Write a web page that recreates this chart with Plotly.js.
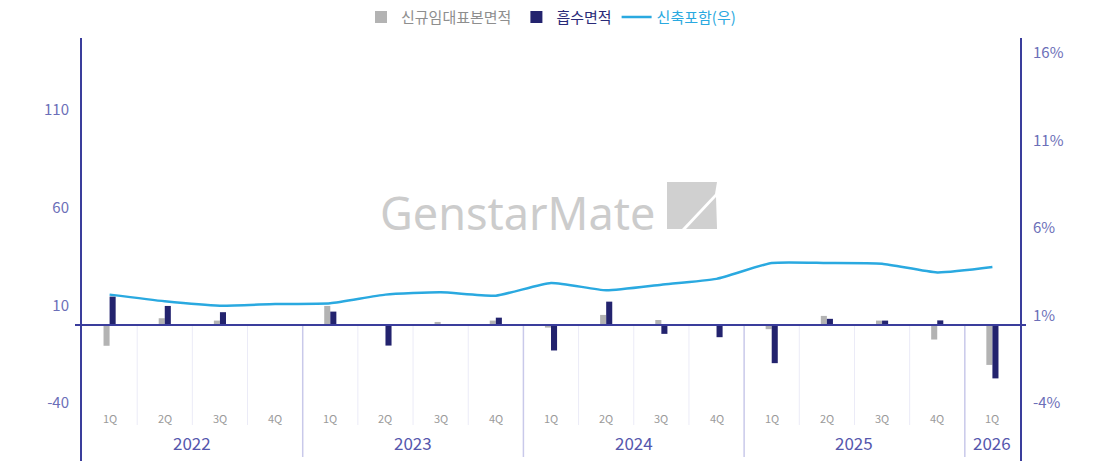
<!DOCTYPE html>
<html>
<head>
<meta charset="utf-8">
<script src="https://cdn.plot.ly/plotly-3.0.1.min.js"></script>
<style>html,body{margin:0;padding:0;background:#fff;}#chart{width:1099px;height:461px;}</style>
</head>
<body>
<div id="chart"></div>
<script>
// ---- data ----
const yearLabels = ['2022', '2023', '2024', '2025', '2026'];
const quarterLabels = ['1Q','2Q','3Q','4Q','1Q','2Q','3Q','4Q','1Q','2Q','3Q','4Q','1Q','2Q','3Q','4Q','1Q'];
const newLeaseSampleArea = [-10.7, 3.4, 2.2, 0, 9.7, 0, 1.5, 2.2, -1.4, 5.1, 2.5, 0, -2.2, 4.6, 2.2, -7.5, -20.5];
const absorptionArea     = [14.5, 9.7, 6.5, 0, 6.8, -10.6, 0, 3.7, -13.1, 11.9, -4.6, -6.3, -19.6, 3.1, 2.2, 2.3, -27.4];
const vacancyInclNew     = [2.2, 1.82, 1.57, 1.66, 1.71, 2.2, 2.33, 2.14, 2.87, 2.45, 2.77, 3.1, 4.01, 4.01, 3.97, 3.47, 3.78];
const seriesNames = ['신규임대표본면적', '흡수면적', '신축포함(우)'];
const leftTicks = [-40, 10, 60, 110];
const rightTicks = [-4, 1, 6, 11, 16];

// ---- styles ----
const W = 1099, H = 461;
const M = {l: 82, r: 79, t: 38, b: 0};
const yRange = [-69.7, 146.9];
const y2Range = [-7.31, 16.87];
const navyAxis = '#3a3d9c';
const labelColor = '#6c6fb8';
const grayBar = '#b3b3b3';
const navyBar = '#23236e';
const lineBlue = '#2aa9e0';
const FONT = '"Noto Sans CJK KR", "Noto Sans", sans-serif';

const idx = quarterLabels.map((_, i) => i);
const pw = W - M.l - M.r, ph = H - M.t - M.b;
const px = x => (x - M.l) / pw;
const py = y => (H - y) / ph;
const zeroPaper = (0 - yRange[0]) / (yRange[1] - yRange[0]);

const traces = [
  {type: 'bar', x: idx, y: newLeaseSampleArea, name: `<span style="color:#8e8e8e">${seriesNames[0]}</span>`,
   marker: {color: grayBar}, yaxis: 'y', hoverinfo: 'y'},
  {type: 'bar', x: idx, y: absorptionArea, name: `<span style="color:#2a2a78">${seriesNames[1]}</span>`,
   marker: {color: navyBar}, yaxis: 'y', hoverinfo: 'y'},
  {type: 'scatter', mode: 'lines', x: idx, y: vacancyInclNew, name: `<span style="color:${lineBlue}">${seriesNames[2]}</span>`,
   line: {color: lineBlue, width: 2.5, shape: 'spline', smoothing: 0.5}, yaxis: 'y2', hoverinfo: 'y'}
];

// dividers, quarter and year labels
const shapes = [];
const annotations = [];
for (let i = 0; i < idx.length - 1; i++) {
  const yearBoundary = quarterLabels[i + 1] === '1Q';
  shapes.push({type: 'line', xref: 'x', yref: 'paper', x0: i + 0.5, x1: i + 0.5,
    y0: zeroPaper, y1: yearBoundary ? py(457) : py(425),
    line: {color: yearBoundary ? '#c9c9ea' : '#ebebf7', width: yearBoundary ? 1.5 : 1}, layer: 'below'});
}
idx.forEach(i => {
  annotations.push({xref: 'x', yref: 'paper', x: i, y: py(418), text: quarterLabels[i], showarrow: false,
    yanchor: 'middle', font: {family: FONT, size: 11, color: '#9a9a9a'}});
});
let starts = idx.filter(i => quarterLabels[i] === '1Q');
starts.forEach((s, k) => {
  const e = (k + 1 < starts.length ? starts[k + 1] : idx.length) - 1;
  annotations.push({xref: 'x', yref: 'paper', x: (s + e) / 2, y: py(442), text: yearLabels[k], showarrow: false,
    yanchor: 'middle', font: {family: FONT, size: 17, color: '#5557ad'}});
});

// zero line
shapes.push({type: 'line', xref: 'paper', yref: 'y', x0: px(75), x1: px(1026), y0: 0, y1: 0,
  line: {color: navyAxis, width: 2}, layer: 'above'});

// watermark
annotations.push({xref: 'paper', yref: 'paper', x: px(517), y: py(212), text: 'GenstarMate', showarrow: false,
  xanchor: 'center', yanchor: 'middle', font: {family: '"Noto Sans", sans-serif', size: 45, color: '#cccccc'}});
const pathOf = pts => 'M ' + pts.map(p => px(p[0]) + ',' + py(p[1])).join(' L ') + ' Z';
shapes.push({type: 'path', xref: 'paper', yref: 'paper', layer: 'below', line: {width: 0}, fillcolor: '#d0d0d0',
  path: pathOf([[667,182],[717,182],[715,194],[682,229],[667,229]])});
shapes.push({type: 'path', xref: 'paper', yref: 'paper', layer: 'below', line: {width: 0}, fillcolor: '#d0d0d0',
  path: pathOf([[686,229],[716,197],[717,229]])});

const layout = {
  width: W, height: H, margin: M,
  paper_bgcolor: '#fff', plot_bgcolor: '#fff',
  barmode: 'group', bargap: 0.78, bargroupgap: 0,
  font: {family: FONT},
  showlegend: true,
  legend: {orientation: 'h', x: 0.5, xanchor: 'center', y: 1.01, yanchor: 'bottom',
    font: {family: FONT, size: 15}, traceorder: 'normal', itemwidth: 30},
  xaxis: {range: [-0.5, idx.length - 0.5], showticklabels: false, showgrid: false, zeroline: false,
    showline: false, ticks: '', fixedrange: true},
  yaxis: {range: yRange, tickvals: leftTicks, ticktext: leftTicks.map(String), showgrid: false, zeroline: false,
    showline: true, linecolor: navyAxis, linewidth: 2, ticks: '', ticklabelstandoff: 8,
    tickfont: {family: FONT, size: 15, color: labelColor}},
  yaxis2: {range: y2Range, overlaying: 'y', side: 'right', tickvals: rightTicks, ticktext: rightTicks.map(v => v + '%'),
    showgrid: false, zeroline: false, showline: true, linecolor: navyAxis, linewidth: 2, ticks: '', ticklabelstandoff: 8,
    tickfont: {family: FONT, size: 15, color: labelColor}},
  shapes: shapes,
  annotations: annotations
};

Plotly.newPlot('chart', traces, layout, {displayModeBar: false, staticPlot: true});
</script>
</body>
</html>
